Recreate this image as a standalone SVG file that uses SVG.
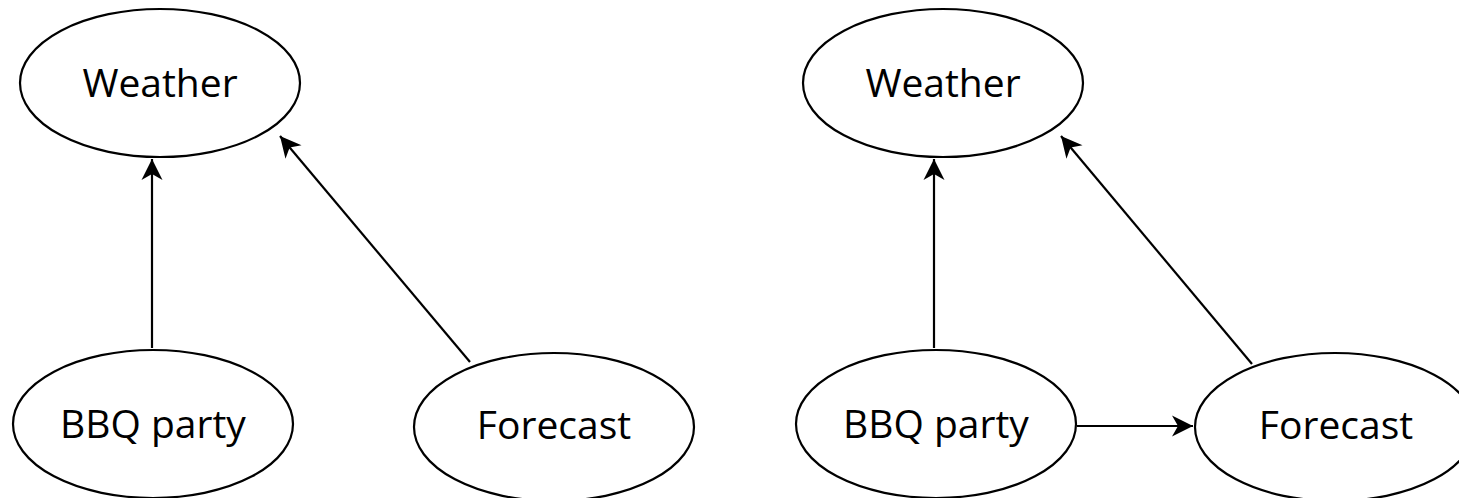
<svg xmlns="http://www.w3.org/2000/svg" width="1459" height="498" viewBox="0 0 1459 498">
<style>
.n{fill:#fff;stroke:#000;stroke-width:2.2}
.t{font-family:"Open Sans","Noto Sans",sans-serif;font-size:39px;fill:#000;text-anchor:middle}
.e{stroke:#000;stroke-width:2.2;fill:none;marker-end:url(#a)}
</style>
<defs>
<marker id="a" markerUnits="userSpaceOnUse" markerWidth="26" markerHeight="26" viewBox="-24 -13 26 26" refX="0" refY="0" orient="auto">
<path d="M0,0 L-21,-10.5 L-15,0 L-21,10.5 z" fill="#000"/>
</marker>
</defs>
<rect width="1459" height="498" fill="#fff"/>
<g id="connectors">
<line class="e" x1="152" y1="348" x2="152" y2="159"/>
<line class="e" x1="470" y1="362" x2="280" y2="136"/>
<line class="e" x1="934" y1="348" x2="934" y2="159"/>
<line class="e" x1="1252" y1="364" x2="1061" y2="136"/>
<line class="e" x1="1077" y1="426" x2="1193" y2="426"/>
</g>
<g id="weather1"><ellipse class="n" cx="160" cy="83" rx="140" ry="74"/><text class="t" x="160" y="97">Weather</text></g>
<g id="bbq1"><ellipse class="n" cx="153" cy="424" rx="140" ry="74"/><text class="t" x="153" y="438">BBQ party</text></g>
<g id="forecast1"><ellipse class="n" cx="554" cy="427" rx="140" ry="74"/><text class="t" x="554" y="439">Forecast</text></g>
<g id="weather2"><ellipse class="n" cx="943" cy="83" rx="140" ry="74"/><text class="t" x="943" y="97">Weather</text></g>
<g id="bbq2"><ellipse class="n" cx="936" cy="424" rx="140" ry="74"/><text class="t" x="936" y="438">BBQ party</text></g>
<g id="forecast2"><ellipse class="n" cx="1335" cy="427" rx="140" ry="74"/><text class="t" x="1336" y="439">Forecast</text></g>
</svg>
